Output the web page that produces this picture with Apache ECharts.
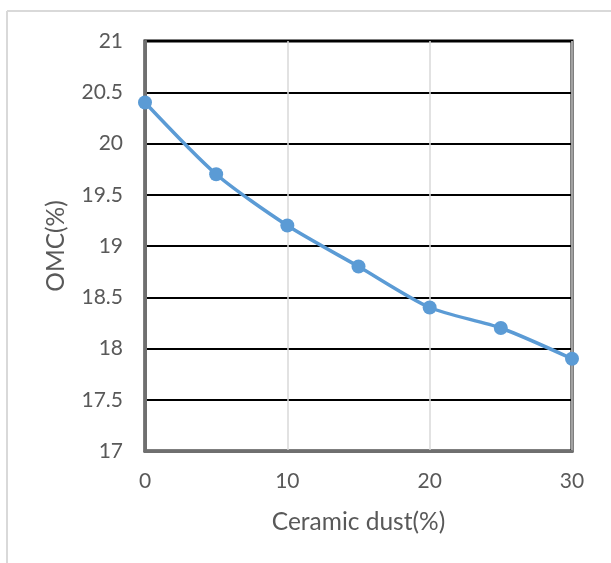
<!DOCTYPE html>
<html>
<head>
<meta charset="utf-8">
<script src="https://cdn.jsdelivr.net/npm/echarts@6/dist/echarts.min.js"></script>
<style>html,body{margin:0;padding:0;background:#fff;}#c{width:611px;height:563px;}</style>
</head>
<body>
<div id="c"></div>
<script>
const dustPercent = [0, 5, 10, 15, 20, 25, 30];
const omcValues = [20.4, 19.7, 19.2, 18.8, 18.4, 18.2, 17.9];
const xAxisName = 'Ceramic dust(%)';
const yAxisName = 'OMC(%)';

const chart = echarts.init(document.getElementById('c'));
const font = 'Lato, "Open Sans", sans-serif';
chart.setOption({
  animation: false,
  backgroundColor: '#fff',
  graphic: [
    { type: 'line', shape: { x1: 7, y1: 11, x2: 611, y2: 11 }, style: { stroke: '#d9d9d9', lineWidth: 2 } },
    { type: 'line', shape: { x1: 7, y1: 11, x2: 7, y2: 563 }, style: { stroke: '#d9d9d9', lineWidth: 2 } }
  ],
  grid: { left: 145, top: 41, right: 39, bottom: 112, show: true, borderColor: '#000', borderWidth: 3, backgroundColor: 'transparent' },
  xAxis: {
    type: 'value', min: 0, max: 30, interval: 10,
    name: xAxisName, nameLocation: 'middle', nameGap: 59,
    nameTextStyle: { color: '#595959', fontSize: 24.5, fontFamily: font },
    axisLine: { show: true, lineStyle: { color: '#6f6f6f', width: 3 } },
    axisTick: { show: false },
    axisLabel: { color: '#595959', fontSize: 21, fontFamily: font, margin: 20 },
    splitLine: { show: true, lineStyle: { color: '#d9d9d9', width: 1.5 } }
  },
  yAxis: {
    type: 'value', min: 17, max: 21, interval: 0.5,
    name: yAxisName, nameLocation: 'middle', nameGap: 76, nameRotate: 90,
    nameTextStyle: { color: '#595959', fontSize: 24.5, fontFamily: font },
    axisLine: { show: true, lineStyle: { color: '#6f6f6f', width: 3 } },
    axisTick: { show: false },
    axisLabel: { color: '#595959', fontSize: 21, fontFamily: font, margin: 22 },
    splitLine: { show: true, lineStyle: { color: '#000', width: 2 } }
  },
  series: [{
    type: 'line',
    data: dustPercent.map((x, i) => [x, omcValues[i]]),
    smooth: 0.25,
    symbol: 'circle', symbolSize: 14,
    lineStyle: { color: '#5B9BD5', width: 3.5 },
    itemStyle: { color: '#5B9BD5' }
  }]
});
</script>
</body>
</html>
